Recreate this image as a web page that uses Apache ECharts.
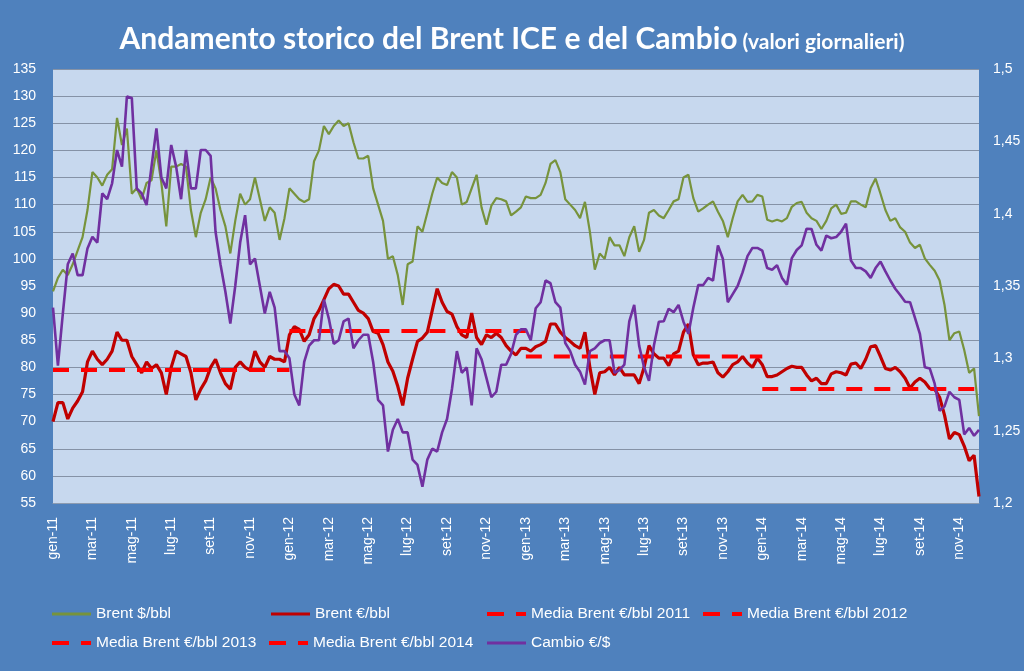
<!DOCTYPE html>
<html>
<head>
<meta charset="utf-8">
<script src="https://cdn.jsdelivr.net/npm/echarts@6/dist/echarts.min.js"></script>
<style>html,body{margin:0;padding:0;background:#4F81BD;}#c{width:1024px;height:671px;}</style>
</head>
<body>
<div id="c"></div>
<script>
// ---- data (about 4 readings per month, Jan 2011 -> end Nov 2014) ----
const monthNames = ['gen','feb','mar','apr','mag','giu','lug','ago','set','ott','nov','dic'];
const yearLabels = ['11','12','13','14'];
const pointsPerMonth = 4;

const brentUsd = [
 94, 96.5, 98, 97, 99, 101.5, 104, 109, 116, 115,
 113.5, 115.5, 116.5, 126, 121, 124, 112, 113, 111, 114,
 114.5, 120, 114, 106, 117, 117, 117.5, 117, 109, 104,
 108.5, 111, 115, 113, 109, 106, 101, 107, 112, 110,
 111, 115, 111, 107, 109.5, 108.5, 103.5, 107.5, 113, 112,
 111, 110.5, 111, 118, 120, 124.5, 123, 124.5, 125.5, 124.5,
 125, 121.5, 118.5, 118.5, 119, 113, 110, 107, 100, 100.5,
 97, 91.5, 99, 99.5, 106, 105, 108.5, 112, 115, 114,
 113.6, 116, 115, 110, 110.5, 113, 115.5, 109.5, 106.3, 109.8,
 111.2, 111, 110.6, 108, 108.7, 109.5, 111.5, 111.2, 111.2, 111.8,
 114, 117.5, 118.2, 116, 111, 110, 109, 107.5, 110.5, 105,
 98, 101, 100, 104, 102.5, 102.5, 100.5, 104, 106, 101.3,
 103.5, 108.5, 109, 108, 107.5, 109, 110.6, 111, 115, 115.5,
 111.2, 108.7, 109.3, 110, 110.6, 108.7, 107, 104, 107.5, 110.6,
 111.8, 110.5, 110.6, 111.8, 111.5, 107.2, 106.9, 107.2, 106.9, 107.5,
 109.6, 110.3, 110.5, 108.5, 107.5, 107, 105.5, 107, 109.3, 110,
 108.3, 108.5, 110.6, 110.6, 110, 109.5, 113, 114.8, 112, 109,
 107, 107.5, 105.8, 105, 103, 102, 102.6, 100.1, 98.9, 97.8,
 96, 91.5, 85, 86.3, 86.6, 83.2, 79, 79.8, 71
];
const brentEur = [
 70, 73.5, 73.5, 70.5, 72.5, 73.8, 75.5, 81, 83, 81.5,
 80.5, 81.5, 83, 86.5, 85, 85, 82, 80.5, 79, 81,
 79.8, 80.5, 79, 75, 80, 83, 82.5, 82, 79, 74,
 76, 77.5, 80, 81.5, 79, 77, 76, 80, 81, 80,
 79.5, 83, 81, 80, 82, 81.5, 81.5, 81, 86, 87.5,
 87, 84.8, 86, 89, 90.5, 92.5, 94.5, 95.3, 95, 93.5,
 93.5, 92, 90.5, 90, 89, 86.6, 86.3, 84.2, 81, 79.3,
 76.5, 73, 78, 81.5, 84.8, 85.4, 86.5, 90.5, 94.5, 92,
 90.3, 89.8, 87.5, 86, 85.5, 90, 85.5, 84.2, 86, 85.5,
 86.3, 85.5, 84, 83, 82.3, 83.5, 83.5, 83, 83.8, 84.2,
 84.8, 88, 88, 86.5, 85.5, 84.8, 84, 83.5, 86.5, 80,
 75, 79, 79.2, 80, 78.6, 80, 78.6, 78.6, 78.6, 77,
 80, 84, 82.5, 81.7, 81.7, 80.3, 82.5, 83, 86.5, 88,
 82.3, 80.5, 80.8, 80.8, 81, 79, 78.2, 79.2, 80.5, 81,
 82, 80.8, 80, 81.7, 80.5, 78.3, 78.3, 78.6, 79.2, 79.8,
 80.2, 80, 80, 78.6, 77.5, 78, 77, 77, 78.8, 79.2,
 79, 78.6, 80.6, 80.8, 79.8, 81.5, 83.8, 84, 82, 79.8,
 79.5, 80, 79.2, 78, 76.2, 77.3, 78, 77.3, 76.1, 76,
 74.5, 71.2, 66.8, 68, 67.6, 65.5, 62.8, 63.8, 56.2
];
const cambio = [
 1.335, 1.295, 1.331, 1.365, 1.3725, 1.3575, 1.3575, 1.376, 1.384, 1.38,
 1.414, 1.41, 1.421, 1.444, 1.4325, 1.481, 1.48, 1.4175, 1.414, 1.406,
 1.4325, 1.459, 1.425, 1.4175, 1.4475, 1.4325, 1.41, 1.444, 1.4175, 1.4175,
 1.444, 1.444, 1.44, 1.3875, 1.365, 1.346, 1.324, 1.35, 1.38, 1.399,
 1.365, 1.369, 1.35, 1.331, 1.346, 1.335, 1.305, 1.305, 1.30, 1.275,
 1.2675, 1.2975, 1.3088, 1.3125, 1.3125, 1.3406, 1.3275, 1.31, 1.3125, 1.3256,
 1.3275, 1.3069, 1.3125, 1.3163, 1.3163, 1.2975, 1.2713, 1.2675, 1.2356, 1.2506,
 1.2581, 1.2488, 1.2488, 1.23, 1.2263, 1.2113, 1.23, 1.2375, 1.2356, 1.2488,
 1.2581, 1.2788, 1.305, 1.29, 1.2938, 1.2675, 1.3069, 1.2994, 1.2863, 1.2731,
 1.2769, 1.2956, 1.2956, 1.3031, 1.3163, 1.32, 1.32, 1.3125, 1.3346, 1.3388,
 1.3538, 1.3519, 1.3388, 1.335, 1.3106, 1.305, 1.2956, 1.2908, 1.2818, 1.305,
 1.3069, 1.3106, 1.3125, 1.3125, 1.29, 1.2919, 1.2956, 1.3256, 1.3369, 1.3088,
 1.2938, 1.2844, 1.3088, 1.3253, 1.3256, 1.3343, 1.3319, 1.3369, 1.3253, 1.3169,
 1.335, 1.3506, 1.3506, 1.3556, 1.3538, 1.3781, 1.3688, 1.3388, 1.3444, 1.35,
 1.3594, 1.3706, 1.3763, 1.3763, 1.3744, 1.3624, 1.3613, 1.3643, 1.3556, 1.3508,
 1.3693, 1.3749, 1.3781, 1.3896, 1.3894, 1.3785, 1.3744, 1.3849, 1.383, 1.3838,
 1.3875, 1.3931, 1.3676, 1.3624, 1.3624, 1.3601, 1.3556, 1.3624, 1.3669, 1.3601,
 1.3538, 1.3481, 1.3438, 1.3391, 1.3388, 1.3279, 1.3169, 1.2938, 1.293, 1.2825,
 1.2638, 1.2668, 1.2769, 1.2731, 1.2713, 1.2474, 1.2519, 1.2465, 1.2506
];
const mediaYears = ['2011','2012','2013','2014'];
const mediaValues = [79.5, 86.7, 82.0, 76.0];

// ---- categories ----
const categories = [];
const catYear = [];
for (let y = 0; y < yearLabels.length; y++) {
  for (let m = 0; m < 12; m++) {
    for (let k = 0; k < pointsPerMonth; k++) {
      if (categories.length >= brentUsd.length) break;
      categories.push(monthNames[m] + '-' + yearLabels[y] + (k ? ' ' + (k + 1) : ''));
      catYear.push(y);
    }
  }
}

// average series: value over the year's points, joined to the first point of next year
const mediaData = mediaValues.map((v, y) =>
  categories.map((c, i) => (catYear[i] === y || (i > 0 && catYear[i - 1] === y && catYear[i] === y + 1)) ? v : '-'));

const COL = { usd: '#77933C', eur: '#C00000', media: '#FF0000', cambio: '#7030A0' };
const legendFont = { color: '#FFFFFF', fontSize: 15.5, fontFamily: "'Liberation Sans', Arial, sans-serif" };
const ICON_SOLID = 'path://M0 0H39V3H0Z';
const ICON_DASH = 'path://M0 0H17V4H0ZM29 0H39V4H29Z';

const series = [
  { name: 'Brent $/bbl', type: 'line', data: brentUsd, symbol: 'none', lineStyle: { color: COL.usd, width: 2.2 }, itemStyle: { color: COL.usd } },
  { name: 'Brent €/bbl', type: 'line', data: brentEur, symbol: 'none', lineStyle: { color: COL.eur, width: 3.2 }, itemStyle: { color: COL.eur } }
];
mediaYears.forEach((yr, j) => series.push({
  name: 'Media Brent €/bbl ' + yr, type: 'line', data: mediaData[j], symbol: 'none',
  lineStyle: { color: COL.media, width: 4, type: [16, 12] }, itemStyle: { color: COL.media }
}));
series.push({ name: 'Cambio €/$', type: 'line', yAxisIndex: 1, data: cambio, symbol: 'none', lineStyle: { color: COL.cambio, width: 2.6 }, itemStyle: { color: COL.cambio } });

const legendPos = [[52, 606], [271, 606], [487, 606], [703, 606], [52, 635], [269, 635], [487, 635]];
const legends = series.map((s, i) => {
  const dashed = i >= 2 && i <= 5;
  return {
    data: [{ name: s.name, icon: dashed ? ICON_DASH : ICON_SOLID }],
    left: legendPos[i][0], top: legendPos[i][1], padding: 0,
    itemWidth: 39, itemHeight: dashed ? 4 : 3, itemGap: 0, symbolKeepAspect: false,
    itemStyle: { borderWidth: 0 }, lineStyle: { width: 0, opacity: 0 },
    textStyle: legendFont, selectedMode: false
  };
});

const chart = echarts.init(document.getElementById('c'), null, { renderer: 'canvas' });
chart.setOption({
  animation: false,
  backgroundColor: '#4F81BD',
  title: {
    text: '{a|Andamento storico del Brent ICE e del Cambio} {b|(valori giornalieri)}',
    left: 'center', top: 15,
    textStyle: {
      rich: {
        a: { fontFamily: 'Lato', fontWeight: 'bold', fontSize: 30, color: '#FFFFFF', lineHeight: 38 },
        b: { fontFamily: 'Lato', fontWeight: 'bold', fontSize: 21, color: '#FFFFFF', lineHeight: 38, padding: [7, 0, 0, 0] }
      }
    }
  },
  legend: legends,
  grid: { left: 53, right: 45, top: 69, bottom: 168, show: true, backgroundColor: '#C7D8EE', borderWidth: 0 },
  xAxis: {
    type: 'category', data: categories, boundaryGap: false,
    axisLine: { show: true, lineStyle: { color: '#8C9BB0' } },
    axisTick: { show: false },
    axisLabel: {
      rotate: 90, color: '#FFFFFF', fontSize: 14, margin: 14, fontFamily: "'Liberation Sans', Arial, sans-serif",
      interval: (idx) => idx % (pointsPerMonth * 2) === 0,
      formatter: (v) => v.split(' ')[0]
    },
    splitLine: { show: false }
  },
  yAxis: [
    { type: 'value', min: 55, max: 135, interval: 5,
      axisLine: { show: false }, axisTick: { show: false },
      axisLabel: { color: '#FFFFFF', fontSize: 14, margin: 17, fontFamily: "'Liberation Sans', Arial, sans-serif" },
      splitLine: { show: true, lineStyle: { color: '#8592A6', width: 1 } } },
    { type: 'value', min: 1.2, max: 1.5, interval: 0.05, position: 'right',
      axisLine: { show: false }, axisTick: { show: false },
      axisLabel: { color: '#FFFFFF', fontSize: 14, margin: 14, fontFamily: "'Liberation Sans', Arial, sans-serif",
        formatter: (v) => String(+v.toFixed(2)).replace('.', ',') },
      splitLine: { show: false } }
  ],
  series: series
});
</script>
</body>
</html>
